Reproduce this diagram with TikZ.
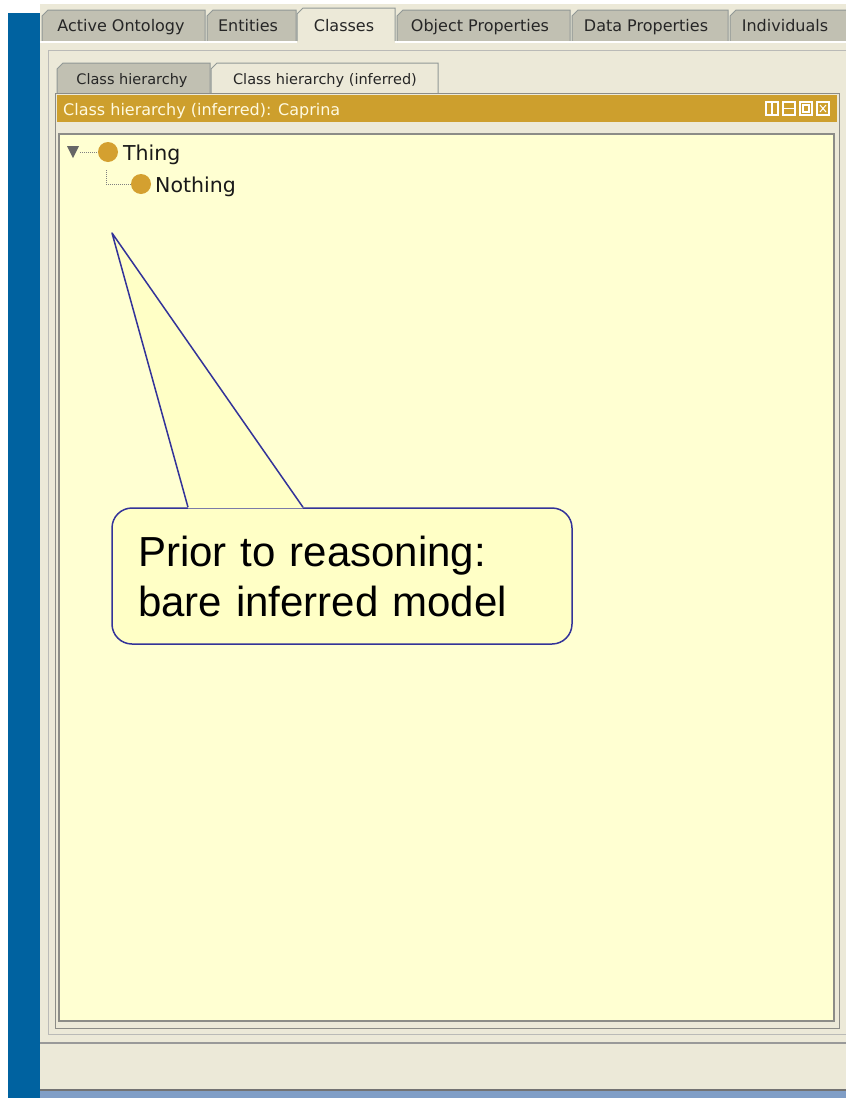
\documentclass[tikz,border=0pt]{standalone}
\usepackage{fontspec}
\setmainfont{DejaVu Sans}
\newfontfamily\calloutfont{Liberation Sans}

\definecolor{barblue}{RGB}{0,98,160}
\definecolor{panelgray}{RGB}{236,233,216}
\definecolor{tabgray}{RGB}{193,192,178}
\definecolor{tabedge}{RGB}{145,152,150}
\definecolor{frameedge}{RGB}{140,140,135}
\definecolor{titlegold}{RGB}{205,159,45}
\definecolor{dotgold}{RGB}{212,160,48}
\definecolor{treeyellow}{RGB}{255,255,210}
\definecolor{noteyellow}{RGB}{255,255,198}
\definecolor{noteblue}{RGB}{51,51,153}
\definecolor{titletext}{RGB}{255,250,225}
\definecolor{statusblue}{RGB}{128,158,198}

\begin{document}
\begin{tikzpicture}[
    x=1pt, y=-1pt,
    tabbox/.style={draw=tabedge, fill=tabgray, line width=1pt},
    tabactive/.style={tabbox, fill=panelgray},
    tablabel/.style={font=\fontsize{16}{19}\selectfont, text=black!85, inner sep=0pt, anchor=base},
    subtablabel/.style={font=\fontsize{14.5}{17}\selectfont, text=black!85, inner sep=0pt, anchor=base},
    titlelabel/.style={font=\fontsize{16}{19}\selectfont, text=titletext, anchor=base west, inner sep=0pt},
    iconbox/.style={draw=white, line width=1.5pt},
    classdot/.style={circle, fill=dotgold, minimum size=20pt, inner sep=0pt},
    classlabel/.style={font=\fontsize{20.5}{24}\selectfont, text=black!90, anchor=base west, inner sep=0pt},
    treeline/.style={draw=gray, densely dotted, line width=1pt},
    callout/.style={draw=noteblue, fill=noteyellow, line width=1.5pt, rounded corners=20pt,
      minimum width=460pt, minimum height=136pt, inner xsep=26pt, text width=408pt, align=left,
      font=\calloutfont\fontsize{42}{50}\selectfont},
    calloutline/.style={draw=noteblue, line width=1.5pt, line join=round}
  ]
  \useasboundingbox (0,0) rectangle (846,1098);

  % window background and the blue bar on the left
  \fill[panelgray] (40,4) rectangle (846,1098);
  \fill[barblue] (8,13) rectangle (40,1098);

  % top row of tabs
  \foreach \xa/\xb/\xt/\tabname [count=\i] in {42/205/121/Active Ontology, 207/296/248/Entities,
      397/570/480/Object Properties, 572/728/646/Data Properties, 730/852/785/Individuals} {
    \draw[tabbox] (\xa,41) -- (\xa,16) -- (\xa+6,10) -- (\xb,10) -- (\xb,41);
    \node[tablabel] (tab\i) at (\xt,31) {\tabname};
  }
  \draw[tabactive] (297,41) -- (297,14) -- (303,8) -- (395,8) -- (395,41);
  \node[tablabel] (tabclasses) at (344,31) {Classes};
  \draw[white, line width=1.5pt] (40,42) -- (297,42) (395,42) -- (846,42);

  % inner panel
  \draw[draw=frameedge!60, line width=1pt] (48,50) rectangle (850,1034);

  % second row of tabs
  \draw[tabbox] (57,93) -- (57,69) -- (63,63) -- (210,63) -- (210,93);
  \node[subtablabel] (subtab1) at (132,84) {Class hierarchy};
  \draw[tabactive] (211,93) -- (211,69) -- (217,63) -- (438,63) -- (438,93);
  \node[subtablabel] (subtab2) at (325,84) {Class hierarchy (inferred)};

  % view frame with its title bar
  \draw[frameedge, line width=1pt] (55,93) rectangle (839,1028);
  \fill[titlegold] (57,95) rectangle (837,122);
  \node[titlelabel] (viewtitle) at (63,115) {Class hierarchy (inferred): Caprina};
  \foreach \xi in {766,783,800,817} {
    \draw[iconbox] (\xi,102) rectangle (\xi+12,115);
  }
  \draw[white, line width=1.5pt] (772,102) -- (772,115);
  \draw[white, line width=1.5pt] (783,108.5) -- (795,108.5);
  \draw[white, line width=1.5pt] (803,105) rectangle (809,112);
  \draw[white, line width=1pt] (820,105) -- (826,112) (826,105) -- (820,112);

  % tree area
  \draw[fill=treeyellow, draw=frameedge, line width=1.5pt] (59,134) rectangle (834,1021);

  \fill[black!60] (67,146) -- (79,146) -- (73,158) -- cycle;
  \coordinate (toggle) at (80,152);
  \node[classdot] (thingdot) at (108,152) {};
  \node[classlabel] (thing) at (123,160) {Thing};
  \coordinate (branch) at (106,170);
  \node[classdot] (nothingdot) at (141,184) {};
  \node[classlabel] (nothing) at (155,192) {Nothing};
  \draw[treeline] (toggle) -- (thingdot.west);
  \draw[treeline] (branch) |- (nothingdot.west);

  % callout
  \coordinate (tip) at (112,233);
  \node[callout] (note) at (342,576) {Prior to reasoning:\\bare inferred model};
  \fill[noteyellow] ([xshift=-154pt,yshift=-1pt]note.north) -- (tip) -- ([xshift=-39pt,yshift=-1pt]note.north) -- cycle;
  \draw[calloutline] ([xshift=-154pt]note.north) -- (tip) -- ([xshift=-39pt]note.north);

  % status area at the bottom
  \draw[black!40, line width=1.5pt] (40,1043) -- (846,1043);
  \draw[black!55, line width=2pt] (40,1090) -- (846,1090);
  \fill[statusblue] (40,1091) rectangle (846,1098);

\end{tikzpicture}
\end{document}
